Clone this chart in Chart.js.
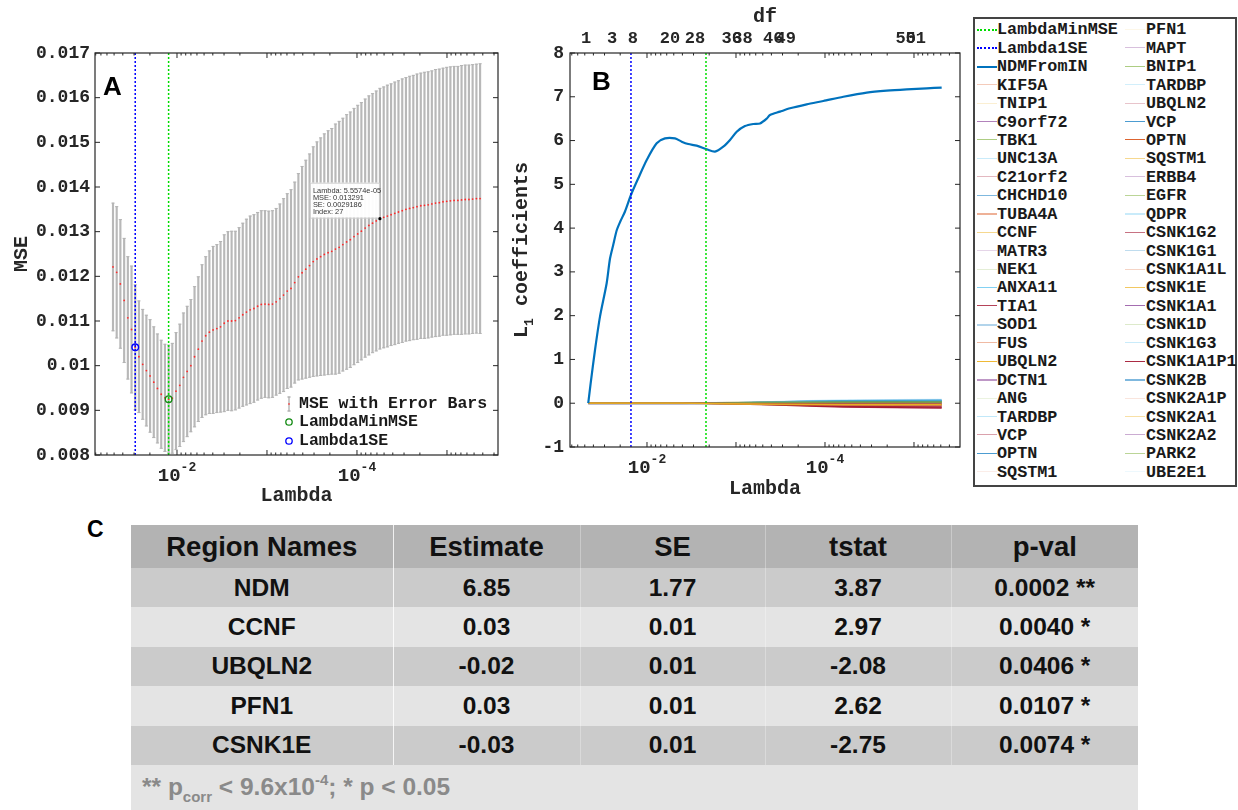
<!DOCTYPE html>
<html><head><meta charset="utf-8">
<script src="https://cdn.jsdelivr.net/npm/chart.js@4.4.1/dist/chart.umd.min.js"></script>
<style>
body{margin:0;width:1238px;height:810px;background:#fff;position:relative;overflow:hidden;font-family:"Liberation Sans",Arial,sans-serif;}
#ca{position:absolute;left:0;top:0;}
#cb{position:absolute;left:505px;top:0;}
#legend{position:absolute;left:973px;top:17px;width:260px;height:466px;border:2px solid #444;background:#fff;}
.lg-line{position:absolute;width:20px;height:0;}
.lg-text{position:absolute;height:18px;line-height:18px;font:bold 16.8px "Liberation Mono","DejaVu Sans Mono",monospace;color:#1a1a1a;white-space:nowrap;}
#clabel{position:absolute;left:87px;top:516px;font:bold 23px "Liberation Sans",Arial,sans-serif;color:#000;}
#tbl{position:absolute;left:131px;top:525px;width:1007px;border-collapse:collapse;table-layout:fixed;font-family:"Liberation Sans",Arial,sans-serif;font-weight:bold;color:#111;}
#tbl th{height:43px;background:#b3b3b3;font-size:27.5px;padding:0;text-align:center;}
#tbl td{height:39.4px;font-size:24.5px;text-align:center;padding:0;}
#tbl tr.d td{background:#cbcbcb;}
#tbl tr.l td{background:#e4e4e4;}
#tbl .c1{border-left:1px solid rgba(255,255,255,.8);}
#tbl .cx{border-left:1px solid rgba(255,255,255,.3);}
#tbl tr.f td{height:45px;background:#e4e4e4;color:#8a8a8a;text-align:left;padding-left:11px;font-size:24.5px;}
#tbl sub,#tbl sup{font-size:15px;line-height:0;}
#tbl sub{vertical-align:-7px;}
#tbl sup{vertical-align:10px;}
</style>
</head><body>
<canvas id="ca" width="510" height="510"></canvas>
<canvas id="cb" width="465" height="510"></canvas>
<div id="legend"></div>
<div id="clabel">C</div>
<table id="tbl"></table>
<script>
// ================= DATA =================
// Panel A: cross-validated MSE vs log10(Lambda)
const lambdaLogA = [-1.289,-1.330,-1.371,-1.413,-1.454,-1.495,-1.536,-1.577,-1.619,-1.660,
-1.701,-1.742,-1.783,-1.825,-1.866,-1.907,-1.948,-1.989,-2.031,-2.072,
-2.113,-2.154,-2.195,-2.237,-2.278,-2.319,-2.360,-2.401,-2.443,-2.484,
-2.525,-2.566,-2.607,-2.649,-2.690,-2.731,-2.772,-2.813,-2.855,-2.896,
-2.937,-2.978,-3.019,-3.061,-3.102,-3.143,-3.184,-3.225,-3.267,-3.308,
-3.349,-3.390,-3.431,-3.473,-3.514,-3.555,-3.596,-3.637,-3.679,-3.720,
-3.761,-3.802,-3.843,-3.885,-3.926,-3.967,-4.008,-4.049,-4.091,-4.132,
-4.173,-4.214,-4.255,-4.297,-4.338,-4.379,-4.420,-4.461,-4.503,-4.544,
-4.585,-4.626,-4.667,-4.709,-4.750,-4.791,-4.832,-4.873,-4.915,-4.956,
-4.997,-5.038,-5.079,-5.121,-5.162,-5.203,-5.244,-5.285,-5.327,-5.368];
const mseA = [0.01221,0.01209,0.01183,0.01146,0.01107,0.01081,0.01041,0.01020,0.01003,0.00989,
0.00977,0.00963,0.00949,0.00936,0.00928,0.00925,0.00927,0.00943,0.00956,0.00974,
0.00987,0.01000,0.01020,0.01037,0.01055,0.01067,0.01075,0.01080,0.01083,0.01087,
0.01095,0.01100,0.01100,0.01101,0.01107,0.01114,0.01120,0.01125,0.01128,0.01133,
0.01137,0.01138,0.01137,0.01138,0.01143,0.01150,0.01158,0.01167,0.01173,0.01186,
0.01199,0.01208,0.01216,0.01224,0.01233,0.01239,0.01244,0.01249,0.01253,0.01256,
0.01261,0.01265,0.01271,0.01277,0.01282,0.01289,0.01295,0.01301,0.01308,0.01314,
0.01319,0.01324,0.013291,0.01332,0.01335,0.01338,0.01341,0.01344,0.01347,0.01350,
0.01352,0.01354,0.01356,0.01358,0.01359,0.01360,0.01362,0.01364,0.01365,0.01367,
0.01368,0.01369,0.01370,0.01370,0.01371,0.01372,0.01372,0.01373,0.01374,0.01374];
const seA = [0.00143,0.00147,0.00144,0.00139,0.00137,0.00142,0.00140,0.00125,0.00123,0.00124,
0.00126,0.00124,0.00122,0.00121,0.00120,0.00121,0.00123,0.00131,0.00137,0.00144,
0.00146,0.00148,0.00157,0.00162,0.00171,0.00177,0.00182,0.00187,0.00188,0.00191,
0.00198,0.00200,0.00201,0.00200,0.00202,0.00205,0.00208,0.00210,0.00210,0.00210,
0.00210,0.00209,0.00209,0.00209,0.00209,0.00212,0.00216,0.00218,0.00221,0.00225,
0.00231,0.00238,0.00244,0.00250,0.00257,0.00262,0.00266,0.00270,0.00273,0.00275,
0.00280,0.00282,0.00283,0.00285,0.00286,0.00287,0.00288,0.00288,0.00289,0.00290,
0.00290,0.00291,0.0029186,0.00292,0.00293,0.00293,0.00294,0.00294,0.00295,0.00295,
0.00296,0.00296,0.00297,0.00297,0.00298,0.00298,0.00298,0.00299,0.00299,0.00299,
0.00300,0.00300,0.00300,0.00300,0.00301,0.00301,0.00301,0.00301,0.00301,0.00302];
const idx1SE = 6;
const idxMinMSE = 15;
const tipIndex = 72;
const tipLines = ['Lambda: 5.5574e-05','MSE: 0.013291','SE: 0.0029186','Index: 27'];
const xTickExpA = [-2, -4];
const legendA = ['MSE with Error Bars','LambdaMinMSE','Lambda1SE'];

// Panel B: coefficient paths
const ndmLogB = [-1.340,-1.367,-1.416,-1.472,-1.547,-1.584,-1.621,-1.660,-1.700,-1.753,-1.820,
-1.902,-1.997,-2.109,-2.202,-2.315,-2.390,-2.464,-2.558,-2.671,-2.764,
-2.857,-2.933,-3.008,-3.101,-3.194,-3.270,-3.345,-3.382,-3.494,-3.607,
-3.794,-3.981,-4.206,-4.469,-4.693,-4.918,-5.143,-5.311];
const ndmCoefB = [0,0.455,1.216,1.977,2.74,3.30,3.62,3.95,4.15,4.38,4.757,
5.138,5.556,5.937,6.05,6.05,5.975,5.92,5.883,5.80,5.746,
5.86,6.013,6.20,6.33,6.378,6.39,6.50,6.584,6.66,6.737,
6.828,6.904,7.00,7.094,7.14,7.17,7.193,7.21];
const lambda1SELogB = -1.820;
const lambdaMinLogB = -2.663;
const geneLogB = [-1.340,-2.40,-2.90,-3.40,-4.20,-5.311];
const geneNames = ['KIF5A','TNIP1','C9orf72','TBK1','UNC13A','C21orf2','CHCHD10','TUBA4A','CCNF','MATR3',
'NEK1','ANXA11','TIA1','SOD1','FUS','UBQLN2','DCTN1','ANG','TARDBP','VCP','OPTN','SQSTM1',
'PFN1','MAPT','BNIP1','TARDBP','UBQLN2','VCP','OPTN','SQSTM1','ERBB4','EGFR','QDPR',
'CSNK1G2','CSNK1G1','CSNK1A1L','CSNK1E','CSNK1A1','CSNK1D','CSNK1G3','CSNK1A1P1','CSNK2B',
'CSNK2A1P','CSNK2A1','CSNK2A2','PARK2','UBE2E1'];
const geneCoefB = [
[0,0,0,-0.01,-0.02,-0.02],[0,0,0,0.01,0.01,0.01],[0,0,-0.01,-0.02,-0.03,-0.04],[0,0,0.01,0.02,0.03,0.03],
[0,0,0.01,0.03,0.06,0.07],[0,0,0,-0.02,-0.06,-0.08],[0,0,0.01,0.02,0.04,0.05],[0,0,0,-0.01,-0.01,-0.02],
[0,0,0.02,0.03,0.04,0.04],[0,0,0,0,0.01,0.01],[0,0,0,0.01,0.02,0.02],[0,0,0.01,0.03,0.05,0.06],
[0,0,-0.01,-0.03,-0.07,-0.09],[0,0,0,0.01,0.02,0.03],[0,0,0,-0.01,-0.03,-0.04],[0,0,-0.01,-0.02,-0.03,-0.03],
[0,0,0,-0.01,-0.02,-0.03],[0,0,0,0,0.01,0.01],[0,0,0.01,0.02,0.04,0.05],[0,0,0,-0.02,-0.05,-0.07],
[0,0,0.01,0.03,0.06,0.07],[0,0,0,0,0,0.01],[0,0,0.02,0.03,0.04,0.04],[0,0,0,-0.01,-0.02,-0.02],
[0,0,0.01,0.01,0.02,0.02],[0,0,0,0.01,0.03,0.04],[0,0,-0.01,-0.03,-0.06,-0.08],[0,0,0.01,0.02,0.04,0.05],
[0,0,-0.01,-0.02,-0.03,-0.04],[0,0,0.01,0.02,0.02,0.03],[0,0,0,-0.01,-0.02,-0.03],[0,0,0.01,0.01,0.02,0.02],
[0,0,0.01,0.03,0.07,0.08],[0,0,-0.01,-0.03,-0.08,-0.10],[0,0,0,0.01,0.03,0.03],[0,0,0,-0.01,-0.03,-0.04],
[0,0,-0.02,-0.03,-0.04,-0.04],[0,0,0,-0.01,-0.02,-0.02],[0,0,0,0.01,0.01,0.02],[0,0,0.01,0.02,0.05,0.06],
[0,0,-0.01,-0.04,-0.09,-0.11],[0,0,0,-0.01,-0.01,-0.01],[0,0,0,0,0.01,0.01],[0,0,0,0.01,0.02,0.02],
[0,0,0,-0.01,-0.03,-0.03],[0,0,0.01,0.02,0.03,0.04],[0,0,0,0,0.01,0.01]];
const geneAlpha = [0.3,0.2,0.6,0.6,0.3,0.3,0.5,0.45,0.5,0.2,0.2,0.7,0.8,0.3,0.4,0.9,0.5,0.15,0.35,0.4,0.7,0.1,
0.1,0.3,0.6,0.25,0.25,0.7,0.9,0.5,0.3,0.5,0.3,0.6,0.25,0.25,0.7,0.7,0.25,0.3,0.9,0.5,0.15,0.4,0.4,0.5,0.1];
const thickGenes = ['TUBA4A','SOD1','QDPR','CSNK2B','DCTN1'];
const dfValues = [1,3,8,20,28,36,38,46,49,50,51];
const dfLogB = [-1.315,-1.607,-1.840,-2.258,-2.539,-2.952,-3.073,-3.419,-3.560,-4.908,-5.020];
const xTickExpB = [-2, -4];
const matlabColors = ['#0072BD','#D95319','#EDB120','#7E2F8E','#77AC30','#4DBEEE','#A2142F'];

// Panel C: table
const tableHeaders = ['Region Names','Estimate','SE','tstat','p-val'];
const regionNames = ['NDM','CCNF','UBQLN2','PFN1','CSNK1E'];
const estimates = [6.85,0.03,-0.02,0.03,-0.03];
const stdErrs = [1.77,0.01,0.01,0.01,0.01];
const tStats = [3.87,2.97,-2.08,2.62,-2.75];
const pVals = [0.0002,0.0040,0.0406,0.0107,0.0074];
const pStars = ['**','*','*','*','*'];

// ================= HELPERS =================
const MONO = '"Liberation Mono","DejaVu Sans Mono",monospace';
const SANS = '"Liberation Sans",Arial,sans-serif';
const AXC = '#262626';
function hexA(hex,a){const r=parseInt(hex.slice(1,3),16),g=parseInt(hex.slice(3,5),16),b=parseInt(hex.slice(5,7),16);return `rgba(${r},${g},${b},${a})`;}

function drawFrame(chart){
  const {ctx, chartArea:a, scales:{x:xs, y:ys}} = chart;
  ctx.save();
  ctx.strokeStyle = AXC; ctx.lineWidth = 1.2;
  ctx.strokeRect(a.left, a.top, a.right-a.left, a.bottom-a.top);
  ctx.lineWidth = 1;
  ctx.beginPath();
  for (let n=Math.floor(xs.min); n<=Math.ceil(xs.max); n++){
    for (let k=1;k<=9;k++){
      const v = n + Math.log10(k);
      if (v < xs.min || v > xs.max) continue;
      const px = xs.getPixelForValue(v), L = k===1 ? 5 : 2.5;
      ctx.moveTo(px, a.bottom); ctx.lineTo(px, a.bottom-L);
      ctx.moveTo(px, a.top); ctx.lineTo(px, a.top+L);
    }
  }
  ys.ticks.forEach(t=>{const py=ys.getPixelForValue(t.value);
    ctx.moveTo(a.left,py);ctx.lineTo(a.left+5,py);ctx.moveTo(a.right,py);ctx.lineTo(a.right-5,py);});
  ctx.stroke();
  ctx.restore();
}
function drawPow(ctx, x, yBase, exp, size){
  const big = `bold ${size}px ${MONO}`, small = `bold ${Math.round(size*0.7)}px ${MONO}`;
  ctx.font = big; const w1 = ctx.measureText('10').width;
  const e = String(exp);
  ctx.font = small; const w2 = ctx.measureText(e).width;
  const x0 = x - (w1+w2)/2;
  ctx.textAlign='left'; ctx.textBaseline='alphabetic';
  ctx.font = big; ctx.fillText('10', x0, yBase);
  ctx.font = small; ctx.fillText(e, x0+w1, yBase - size*0.52);
}

// ================= CHART A =================
const pluginA = {id:'decorA', afterDraw(chart){
  const {ctx, chartArea:a, scales:{x:xs, y:ys}} = chart;
  drawFrame(chart);
  ctx.save();
  ctx.fillStyle = AXC;
  xTickExpA.forEach(e=>drawPow(ctx, xs.getPixelForValue(e), 481, e, 19));
  ctx.font = `bold 20px ${MONO}`; ctx.textAlign='center'; ctx.textBaseline='alphabetic';
  ctx.fillText('Lambda', (a.left+a.right)/2, 501);
  ctx.save(); ctx.translate(27,(a.top+a.bottom)/2); ctx.rotate(-Math.PI/2); ctx.fillText('MSE',0,0); ctx.restore();
  ctx.fillStyle='#000'; ctx.font = `bold 26px ${SANS}`; ctx.textAlign='left';
  ctx.fillText('A', 103, 95);
  // legend
  const lx = 289, ly = [404, 422, 441];
  ctx.strokeStyle='#b0b0b0'; ctx.lineWidth=1.3; ctx.beginPath();
  ctx.moveTo(lx,397);ctx.lineTo(lx,411);ctx.moveTo(lx-1.5,397);ctx.lineTo(lx+1.5,397);ctx.moveTo(lx-1.5,411);ctx.lineTo(lx+1.5,411);ctx.stroke();
  ctx.fillStyle='#ff2020'; ctx.fillRect(lx-0.7,ly[0]-0.7,1.4,1.4);
  ctx.lineWidth=1.3;
  ctx.strokeStyle='#138a13'; ctx.beginPath(); ctx.arc(lx,ly[1],3.2,0,2*Math.PI); ctx.stroke();
  ctx.strokeStyle='#0000ff'; ctx.beginPath(); ctx.arc(lx,ly[2],3.2,0,2*Math.PI); ctx.stroke();
  ctx.fillStyle='#1a1a1a'; ctx.font=`bold 16.5px ${MONO}`; ctx.textBaseline='middle';
  legendA.forEach((t,i)=>ctx.fillText(t, 299, ly[i]));
  // datatip
  const px = xs.getPixelForValue(lambdaLogA[tipIndex]), py = ys.getPixelForValue(mseA[tipIndex]);
  const bx = px-70, by = py-36;
  ctx.fillStyle='rgba(255,255,255,0.96)'; ctx.fillRect(bx,by,69,35);
  ctx.strokeStyle='#cfcfcf'; ctx.lineWidth=1; ctx.strokeRect(bx+0.5,by+0.5,69,35);
  ctx.fillStyle='#333'; ctx.font=`7.4px ${SANS}`; ctx.textBaseline='alphabetic';
  tipLines.forEach((t,i)=>ctx.fillText(t, bx+3, by+10+i*7.2));
  ctx.fillStyle='#000'; ctx.beginPath(); ctx.arc(px,py,1.6,0,2*Math.PI); ctx.fill();
  ctx.restore();
}};

const barData = lambdaLogA.map((x,i)=>({x, y:[mseA[i]-seA[i], mseA[i]+seA[i]]}));
const capHi = lambdaLogA.map((x,i)=>({x, y:mseA[i]+seA[i]}));
const capLo = lambdaLogA.map((x,i)=>({x, y:mseA[i]-seA[i]}));
const msePts = lambdaLogA.map((x,i)=>({x, y:mseA[i]}));

new Chart(document.getElementById('ca'), {
  type:'scatter',
  data:{datasets:[
    {type:'line', label:'Lambda1SE', data:[{x:lambdaLogA[idx1SE],y:0.008},{x:lambdaLogA[idx1SE],y:0.017}],
     borderColor:'#0000ff', borderWidth:1.5, borderDash:[2,2], pointRadius:0, order:3},
    {type:'line', label:'LambdaMinMSE', data:[{x:lambdaLogA[idxMinMSE],y:0.008},{x:lambdaLogA[idxMinMSE],y:0.017}],
     borderColor:'#00dd00', borderWidth:1.5, borderDash:[2,2], pointRadius:0, order:3},
    {type:'scatter', label:'Lambda1SE pt', data:[{x:lambdaLogA[idx1SE], y:mseA[idx1SE]}],
     pointRadius:3.3, pointBorderWidth:1.4, pointBorderColor:'#0000ff', pointBackgroundColor:'rgba(0,0,0,0)', order:1},
    {type:'scatter', label:'LambdaMinMSE pt', data:[{x:lambdaLogA[idxMinMSE], y:mseA[idxMinMSE]}],
     pointRadius:3.3, pointBorderWidth:1.4, pointBorderColor:'#138a13', pointBackgroundColor:'rgba(0,0,0,0)', order:1},
    {type:'scatter', label:'MSE', data:msePts, pointRadius:0.9, pointBorderWidth:0,
     pointBackgroundColor:'#ff2a2a', order:5},
    {type:'scatter', label:'capHi', data:capHi, pointStyle:'line', pointRadius:1.6, pointBorderWidth:1,
     pointBorderColor:'#b4b4b4', order:9, clip:0},
    {type:'scatter', label:'capLo', data:capLo, pointStyle:'line', pointRadius:1.6, pointBorderWidth:1,
     pointBorderColor:'#b4b4b4', order:9, clip:0},
    {type:'bar', label:'MSE with Error Bars', data:barData, backgroundColor:'#b8b8b8', borderWidth:0,
     barThickness:1.5, order:10, clip:0}
  ]},
  options:{
    responsive:false, animation:false, events:[],
    layout:{padding:{left:0, top:53, right:12, bottom:55}},
    plugins:{legend:{display:false}, tooltip:{enabled:false}},
    scales:{
      x:{type:'linear', display:false, reverse:true, min:-5.567, max:-1.089, offset:false},
      y:{type:'linear', min:0.008, max:0.017, beginAtZero:false,
         grid:{display:false, drawTicks:false}, border:{display:false},
         ticks:{stepSize:0.001, padding:5, color:AXC, font:{family:MONO, size:18, weight:'bold'},
                callback:v=>String(Math.round(v*1000)/1000)},
         afterFit:s=>{s.width=95;}}
    }
  },
  plugins:[pluginA]
});

// ================= CHART B =================
const pluginB = {id:'decorB', afterDraw(chart){
  const {ctx, chartArea:a, scales:{x:xs}} = chart;
  drawFrame(chart);
  ctx.save();
  ctx.fillStyle = AXC;
  xTickExpB.forEach(e=>drawPow(ctx, xs.getPixelForValue(e), 473, e, 19));
  ctx.font = `bold 20px ${MONO}`; ctx.textAlign='center'; ctx.textBaseline='alphabetic';
  ctx.fillText('Lambda', (a.left+a.right)/2, 494);
  ctx.fillText('df', (a.left+a.right)/2, 22);
  ctx.font = `bold 17px ${MONO}`;
  dfValues.forEach((d,i)=>ctx.fillText(String(d), xs.getPixelForValue(dfLogB[i]), 43));
  // y title: L_1 coefficients
  ctx.save(); ctx.translate(22,(a.top+a.bottom)/2); ctx.rotate(-Math.PI/2);
  ctx.font = `bold 20px ${MONO}`; const wL = ctx.measureText('L').width;
  ctx.font = `bold 13px ${MONO}`; const w1 = ctx.measureText('1').width;
  ctx.font = `bold 20px ${MONO}`; const wc = ctx.measureText(' coefficients').width;
  let x0 = -(wL+w1+wc)/2;
  ctx.textAlign='left';
  ctx.fillText('L', x0, 0);
  ctx.font = `bold 13px ${MONO}`; ctx.fillText('1', x0+wL, 6);
  ctx.font = `bold 20px ${MONO}`; ctx.fillText(' coefficients', x0+wL+w1, 0);
  ctx.restore();
  ctx.fillStyle='#000'; ctx.font = `bold 26px ${SANS}`; ctx.textAlign='left';
  ctx.fillText('B', 87, 90);
  ctx.restore();
}};

const dsB = [];
dsB.push({type:'line', label:'LambdaMinMSE', data:[{x:lambdaMinLogB,y:-1},{x:lambdaMinLogB,y:8}],
  borderColor:'#00dd00', borderWidth:1.5, borderDash:[2,2], pointRadius:0, order:-2});
dsB.push({type:'line', label:'Lambda1SE', data:[{x:lambda1SELogB,y:-1},{x:lambda1SELogB,y:8}],
  borderColor:'#0000ff', borderWidth:1.5, borderDash:[2,2], pointRadius:0, order:-2});
dsB.push({type:'line', label:'NDMFromIN', data:ndmLogB.map((x,i)=>({x, y:ndmCoefB[i]})),
  borderColor:'#0072BD', borderWidth:2.2, pointRadius:0, tension:0.25, order:0});
geneNames.forEach((g,gi)=>{
  const col = matlabColors[(gi+1)%7];
  dsB.push({type:'line', label:g, data:geneLogB.map((x,i)=>({x, y:geneCoefB[gi][i]})),
    borderColor:hexA(col, geneAlpha[gi]), borderWidth:thickGenes.includes(g)?2:1.3, pointRadius:0,
    tension:0.2, order:(col==='#EDB120' && geneAlpha[gi]>0.6)?1:2});
});

new Chart(document.getElementById('cb'), {
  type:'scatter',
  data:{datasets:dsB},
  options:{
    responsive:false, animation:false, events:[],
    layout:{padding:{left:0, top:53, right:10, bottom:63}},
    plugins:{legend:{display:false}, tooltip:{enabled:false}},
    scales:{
      x:{type:'linear', display:false, reverse:true, min:-5.517, max:-1.135, offset:false},
      y:{type:'linear', min:-1, max:8, beginAtZero:false,
         grid:{display:false, drawTicks:false}, border:{display:false},
         ticks:{stepSize:1, padding:6, color:AXC, font:{family:MONO, size:18, weight:'bold'}},
         afterFit:s=>{s.width=65;}}
    }
  },
  plugins:[pluginB]
});

// ================= LEGEND (for B) =================
(function(){
  const lg = document.getElementById('legend');
  const entries = [
    {name:'LambdaMinMSE', css:'border-top:2px dotted #00dd00'},
    {name:'Lambda1SE', css:'border-top:2px dotted #0000ff'},
    {name:'NDMFromIN', css:'border-top:2px solid #0072BD'}
  ];
  geneNames.forEach((g,gi)=>{
    const col = matlabColors[(gi+1)%7];
    entries.push({name:g, css:`border-top:${thickGenes.includes(g)?2:1}px solid ${hexA(col, geneAlpha[gi])}`});
  });
  entries.forEach((e,i)=>{
    const colIdx = i<25?0:1, row = i%25;
    const cy = 10.3 + 18.44*row;
    const line = document.createElement('div');
    line.className='lg-line'; line.style.cssText = `left:${colIdx?150:2}px;top:${cy-0.5}px;${e.css}`;
    lg.appendChild(line);
    const t = document.createElement('div');
    t.className='lg-text'; t.style.left = (colIdx?171:22)+'px'; t.style.top = (cy-9)+'px';
    t.textContent = e.name; lg.appendChild(t);
  });
})();

// ================= TABLE =================
(function(){
  const tbl = document.getElementById('tbl');
  const widths = [262,187,185,186,187];
  let h = '<colgroup>' + widths.map(w=>`<col style="width:${w}px">`).join('') + '</colgroup>';
  const cls = ['', 'c1', 'cx', 'cx', 'cx'];
  h += '<tr>' + tableHeaders.map((t,i)=>`<th class="${cls[i]}">${t}</th>`).join('') + '</tr>';
  regionNames.forEach((r,i)=>{
    const cells = [r, estimates[i].toFixed(2), stdErrs[i].toFixed(2), tStats[i].toFixed(2), pVals[i].toFixed(4)+' '+pStars[i]];
    h += `<tr class="${i%2===0?'d':'l'}">` + cells.map((c,j)=>`<td class="${cls[j]}">${c}</td>`).join('') + '</tr>';
  });
  h += '<tr class="f"><td colspan="5">** p<sub>corr</sub> &lt; 9.6x10<sup>-4</sup>; * p &lt; 0.05</td></tr>';
  tbl.innerHTML = h;
})();
</script>
</body></html>
